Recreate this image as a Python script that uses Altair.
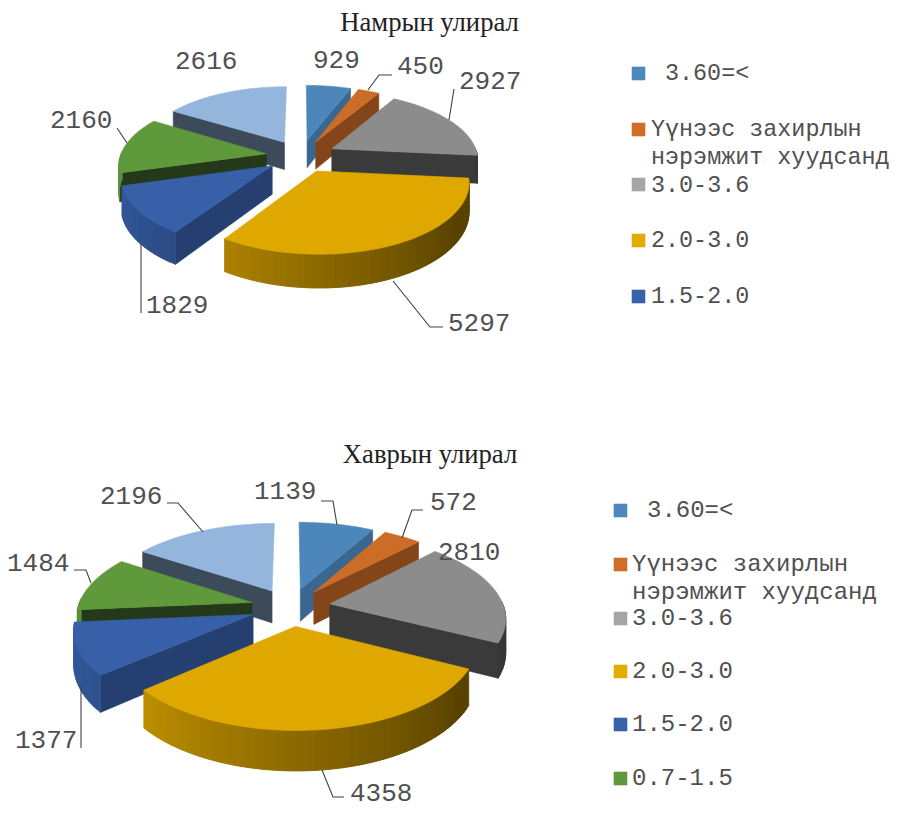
import math
import numpy as np
import altair as alt

CATEGORIES = ["3.60=<", "Үүнээс захирлын нэрэмжит хуудсанд", "3.0-3.6", "2.0-3.0", "1.5-2.0", "0.7-1.5", "0.7>"]
SUMMER_VALUES = [929, 450, 2927, 5297, 1829, 2160, 2616]
SPRING_VALUES = [1139, 572, 2810, 4358, 1377, 1484, 2196]
TOP_COLORS = ["#4C86BA", "#CC6D27", "#8C8C8C", "#DFA800", "#3860A8", "#5F993B", "#95B6DC"]
FACE_COLORS = ["#3A6790", "#84451B", "#3A3A3A", "#6B5000", "#243F70", "#24391A", "#3C4A5A"]
LEGEND_COLORS = ["#4F88BC", "#D16D28", "#A5A5A7", "#E3AC00", "#3A62AA", "#60993C"]

OX, OY = 8, 8  # page margin


def hex_scale(c, f):
    r, g, b = int(c[1:3], 16), int(c[3:5], 16), int(c[5:7], 16)
    return "#%02x%02x%02x" % (min(255, int(r * f)), min(255, int(g * f)), min(255, int(b * f)))


def poly(pts, fill):
    ring = [[float(x - OX), float(y - OY)] for x, y in pts]
    ring.append(ring[0])
    return {"type": "Feature", "geometry": {"type": "Polygon", "coordinates": [ring]},
            "properties": {"fill": fill}}


def build_pie(values, cx, cy, R, Rt, k, h, e):
    feats = []
    total = sum(values)

    def proj(u, v, down=False):
        s = 1 / (1 + k * v)
        return (cx + R * u * s, cy - Rt * v * s + (h * s if down else 0))

    slices = []
    cum = 0.0
    for i, val in enumerate(values):
        t0 = cum / total * 2 * math.pi
        cum += val
        t1 = cum / total * 2 * math.pi
        mid = (t0 + t1) / 2
        slices.append((math.cos(mid), i, t0, t1, mid))
    slices.sort(key=lambda r: -r[0])
    for _, i, t0, t1, mid in slices:
        ou, ov = e * math.sin(mid), e * math.cos(mid)
        n = max(3, int((t1 - t0) / math.radians(2)))
        ts = np.linspace(t0, t1, n + 1)
        rim = [(ou + math.sin(t), ov + math.cos(t)) for t in ts]
        tip = (ou, ov)
        # radial faces toward the viewer
        if math.sin(t0) < -0.01:
            a = rim[0]
            feats.append(poly([proj(*tip), proj(*a), proj(*a, True), proj(*tip, True)], FACE_COLORS[i]))
        if math.sin(t1) > 0.01:
            a = rim[-1]
            feats.append(poly([proj(*tip), proj(*a), proj(*a, True), proj(*tip, True)], FACE_COLORS[i]))
        # outer wall strips, shaded by angle; each overlaps the next to hide seams
        for j in range(n):
            tm = math.degrees((ts[j] + ts[j + 1]) / 2)
            if math.cos(math.radians(tm)) < 0.02:
                f = float(np.interp(tm, [125, 173, 229, 265], [0.4, 0.6, 0.85, 0.95]))
                col = hex_scale(TOP_COLORS[i], f)
                a, b = rim[j], rim[min(j + 2, n)]
                feats.append(poly([proj(*a), proj(*b), proj(*b, True), proj(*a, True)], col))
        # top face
        feats.append(poly([proj(*tip)] + [proj(*p) for p in rim], TOP_COLORS[i]))
    return feats


features = []
features += build_pie(SUMMER_VALUES, 301, 156, 146, 67, 0.14, 28, 0.24)
features += build_pie(SPRING_VALUES, 290.5, 607, 174, 82, 0.15, 33, 0.23)

# legend squares
SUMMER_SWATCH_Y = [67, 123, 178, 234, 290]
SPRING_SWATCH_Y = [504, 558, 612, 665, 718, 772]
for c, y in zip(LEGEND_COLORS, SUMMER_SWATCH_Y):
    features.append(poly([(632, y), (645, y), (645, y + 13), (632, y + 13)], c))
for c, y in zip(LEGEND_COLORS, SPRING_SWATCH_Y):
    features.append(poly([(614, y), (627, y), (627, y + 13), (614, y + 13)], c))

LEADERS = [
    [(368, 90), (379, 75), (392, 75)],
    [(449, 120), (454, 89)],
    [(127, 143), (117, 128)],
    [(141, 244), (141, 313)],
    [(393, 281), (430, 327), (443, 327)],
    [(321, 501), (333, 501), (337, 525)],
    [(423, 510), (412, 510), (402, 538)],
    [(167, 503), (178, 503), (203, 532)],
    [(74, 570), (86, 570), (91, 583)],
    [(81, 748), (81, 687)],
    [(322, 770), (333, 797), (344, 797)],
]
leader_feats = [
    {"type": "Feature",
     "geometry": {"type": "LineString", "coordinates": [[x - OX, y - OY] for x, y in l]},
     "properties": {}} for l in LEADERS]

# value labels: left x, centre y (4358 sits a little higher so it stays inside the page)
SUMMER_LABEL_POS = [(313, 60), (397, 66), (459, 81), (448, 323), (146, 305), (50, 120), (175, 61)]
SPRING_LABEL_POS = [(254, 491), (430, 502), (438, 552), (350, 793), (15, 740), (7, 563), (100, 496)]
labels = []
for vals, pos in ((SUMMER_VALUES, SUMMER_LABEL_POS), (SPRING_VALUES, SPRING_LABEL_POS)):
    for v, (x, y) in zip(vals, pos):
        labels.append({"t": str(v), "lon": x - OX, "lat": y - OY})

summer_legend_text = [
    ("3.60=<", 665, 73), ("Үүнээс захирлын", 651, 129), ("нэрэмжит хуудсанд", 651, 157),
    ("3.0-3.6", 651, 185), ("2.0-3.0", 651, 240), ("1.5-2.0", 651, 296),
]
spring_legend_text = [
    ("3.60=<", 647, 510), ("Үүнээс захирлын", 632, 564), ("нэрэмжит хуудсанд", 632, 592),
    ("3.0-3.6", 632, 618), ("2.0-3.0", 632, 671), ("1.5-2.0", 632, 724), ("0.7-1.5", 632, 778),
]
summer_rows = [{"t": t, "lon": x - OX, "lat": y - OY} for t, x, y in summer_legend_text]
spring_rows = [{"t": t, "lon": x - OX, "lat": y - OY} for t, x, y in spring_legend_text]

titles = [
    {"t": "Намрын улирал", "lon": 429.5 - OX, "lat": 23 - OY},
    {"t": "Хаврын улирал", "lon": 430 - OX, "lat": 455 - OY},
]

P = alt.Projection(type="identity", scale=1, translate=[0, 0]).to_dict()

shapes = alt.Chart(alt.Data(values=features)).mark_geoshape(strokeWidth=0.6).encode(
    fill=alt.Fill("properties.fill:N", scale=None),
    stroke=alt.Stroke("properties.fill:N", scale=None),
).project(**P)

lines = alt.Chart(alt.Data(values=leader_feats)).mark_geoshape(
    filled=False, stroke="#404040", strokeWidth=1.1
).project(**P)

label_layer = alt.Chart(alt.Data(values=labels)).mark_text(
    font="Liberation Mono", fontSize=26, color="#505050", align="left", baseline="middle"
).encode(longitude="lon:Q", latitude="lat:Q", text="t:N").project(**P)

summer_legend = alt.Chart(alt.Data(values=summer_rows)).mark_text(
    font="Liberation Mono", fontSize=23.4, color="#505050", align="left", baseline="middle"
).encode(longitude="lon:Q", latitude="lat:Q", text="t:N").project(**P)

spring_legend = alt.Chart(alt.Data(values=spring_rows)).mark_text(
    font="Liberation Mono", fontSize=24, color="#505050", align="left", baseline="middle"
).encode(longitude="lon:Q", latitude="lat:Q", text="t:N").project(**P)

title_layer = alt.Chart(alt.Data(values=titles)).mark_text(
    font="Liberation Serif", fontSize=26.7, color="#222222", align="center", baseline="middle"
).encode(longitude="lon:Q", latitude="lat:Q", text="t:N").project(**P)

chart = alt.layer(shapes, lines, label_layer, summer_legend, spring_legend, title_layer).properties(
    width=883, height=800, padding=0, autosize=alt.AutoSizeParams(type="none")
).configure_view(stroke=None)

chart.save("out.html", embed_options={"renderer": "svg", "actions": False})
